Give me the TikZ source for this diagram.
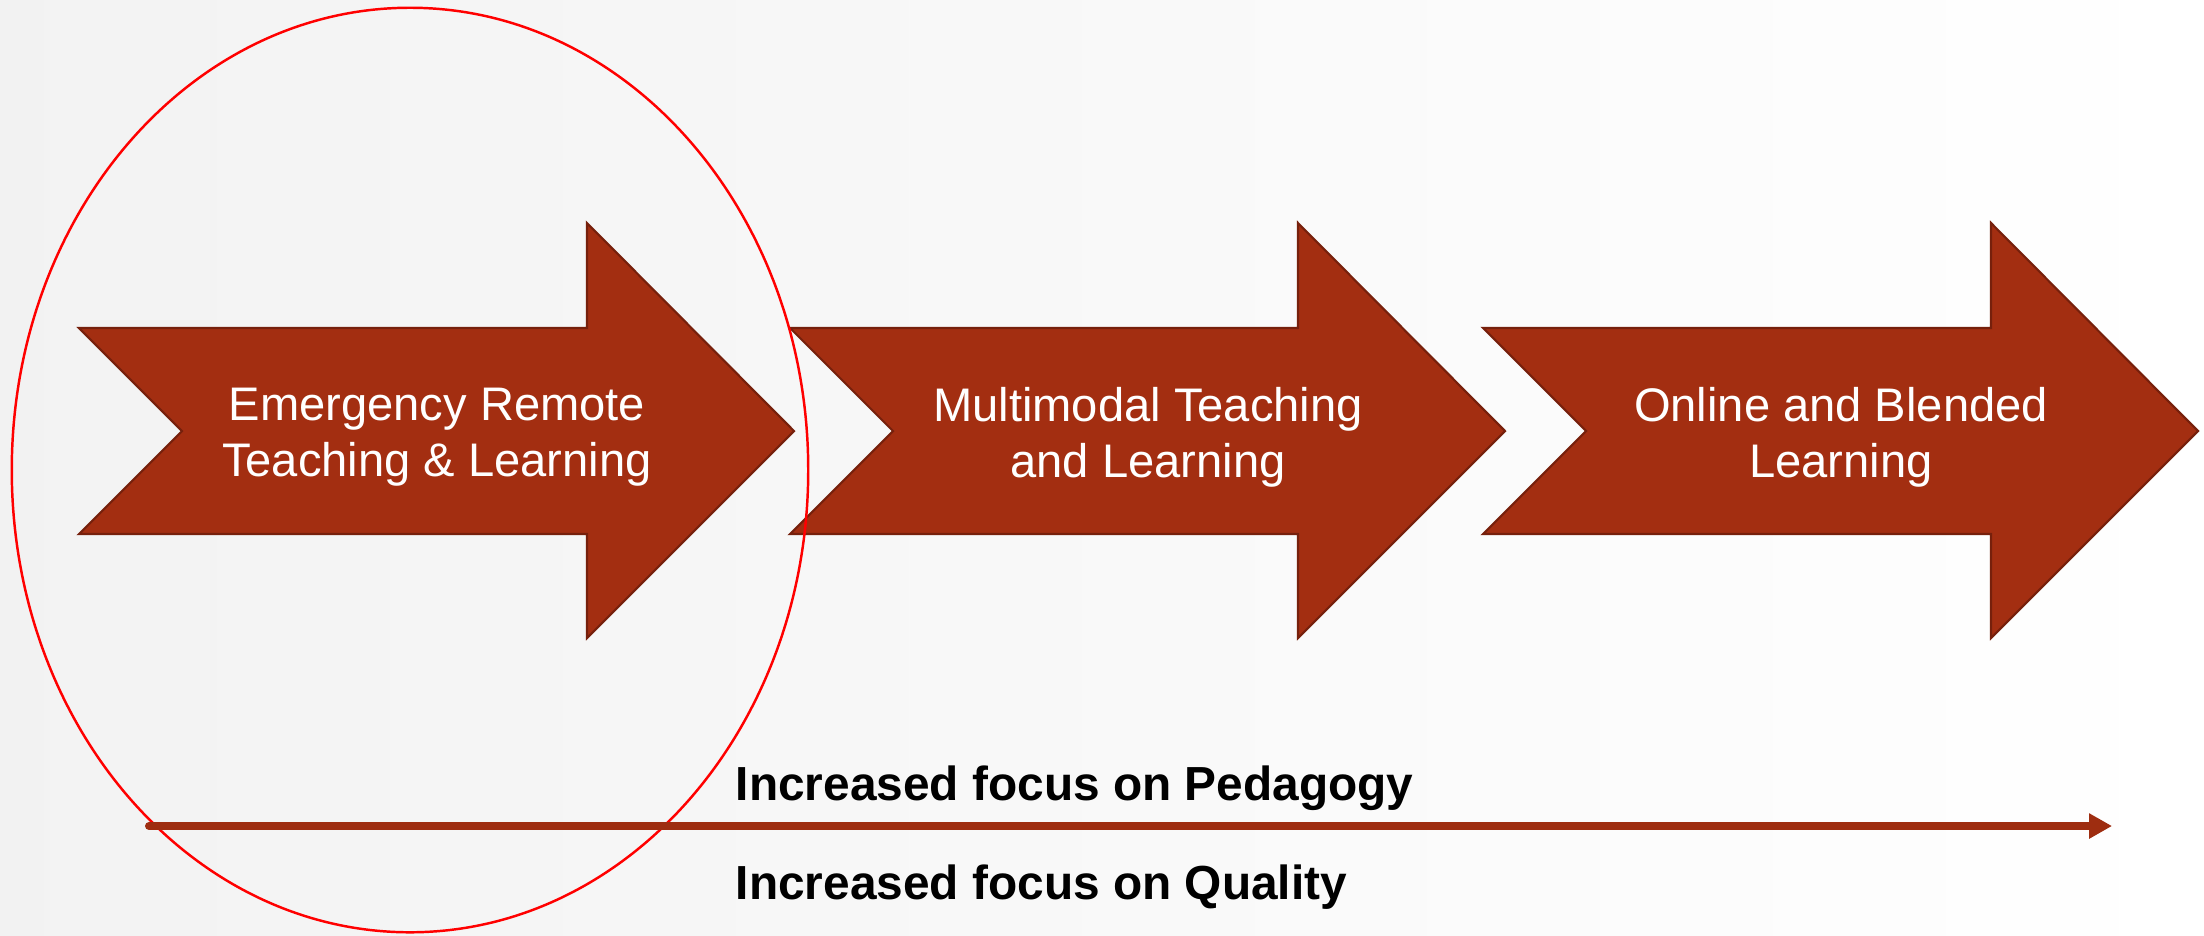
\documentclass[tikz,border=0pt]{standalone}
\usepackage{fontspec}
\setmainfont{Liberation Sans}
\usetikzlibrary{arrows.meta}

\definecolor{rust}{RGB}{163,46,17}
\definecolor{rustdark}{RGB}{118,32,12}

\begin{document}
\begin{tikzpicture}[x=0.01cm, y=-0.01cm,
  chevron/.style = {fill=rust, draw=rustdark, line width=0.6pt, line join=miter},
  stage/.style = {text=white, align=center, font=\fontsize{13.4}{16}\selectfont},
  focus/.style = {anchor=base west, inner sep=0pt, font=\fontsize{13.6}{16}\selectfont\bfseries},
  axis/.style = {draw=rust!97!black, line width=0.08cm, line cap=round, -{Triangle[length=0.23cm, width=0.24cm]}}]

\useasboundingbox (0,0) rectangle (2204,935);
\shade[left color=black!5, right color=white] (0,0) rectangle (2204,935);

% three stages
\draw[chevron] (79,328) -- (587,328) -- (587,223) -- (794,431) -- (587,638) -- (587,534) -- (79,534) -- (182,431) -- cycle;
\draw[chevron] (790,328) -- (1298,328) -- (1298,223) -- (1505,431) -- (1298,638) -- (1298,534) -- (790,534) -- (893,431) -- cycle;
\draw[chevron] (1483,328) -- (1991,328) -- (1991,223) -- (2198,431) -- (1991,638) -- (1991,534) -- (1483,534) -- (1586,431) -- cycle;

\node[stage] (ert) at (437,437) {Emergency Remote\\Teaching \& Learning};
\node[stage] (mtl) at (1148,437) {Multimodal Teaching\\and Learning};
\node[stage] (obl) at (1841,437) {Online and Blended\\Learning};

% the ERT stage is circled
\draw[red, line width=0.7pt] (410,470) ellipse [x radius=3.98cm, y radius=4.62cm];

% focus axis
\coordinate (from) at (149,826);
\coordinate (to) at (2112,826);
\draw[axis] (from) -- (to);

\node[focus] (ped) at (735,800) {Increased focus on Pedagogy};
\node[focus] (qual) at (735,899) {Increased focus on Quality};

\end{tikzpicture}
\end{document}
